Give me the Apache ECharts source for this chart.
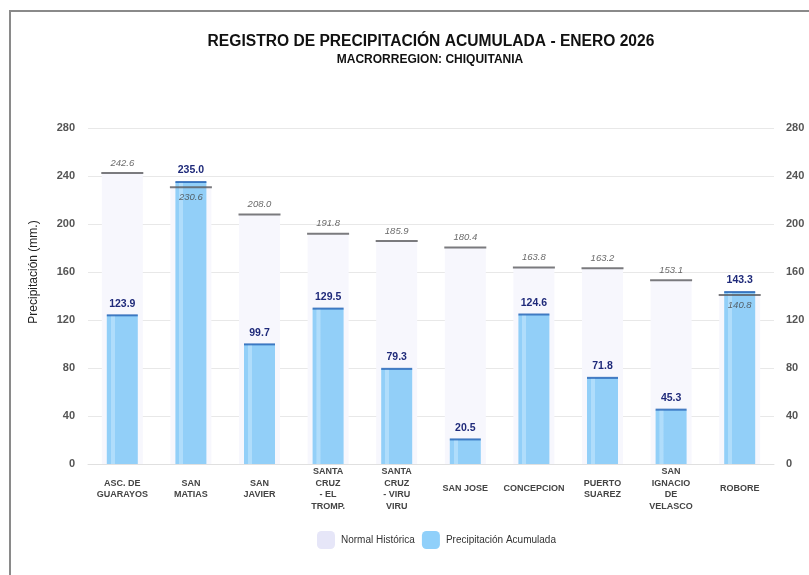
<!DOCTYPE html>
<html>
<head>
<meta charset="utf-8">
<script src="https://cdn.jsdelivr.net/npm/echarts@6/dist/echarts.min.js"></script>
<style>
  html, body { margin: 0; padding: 0; background: #fff; }
  #chart { width: 809px; height: 575px; }
</style>
</head>
<body>
<div id="chart"></div>
<script>
const estaciones = [
  'ASC. DE\nGUARAYOS', 'SAN\nMATIAS', 'SAN\nJAVIER', 'SANTA\nCRUZ\n- EL\nTROMP.',
  'SANTA\nCRUZ\n- VIRU\nVIRU', 'SAN JOSE', 'CONCEPCION', 'PUERTO\nSUAREZ',
  'SAN\nIGNACIO\nDE\nVELASCO', 'ROBORE'
];
const normalHistorica = [242.6, 230.6, 208.0, 191.8, 185.9, 180.4, 163.8, 163.2, 153.1, 140.8];
const precipAcumulada = [123.9, 235.0, 99.7, 129.5, 79.3, 20.5, 124.6, 71.8, 45.3, 143.3];
const yTicks = { min: 0, max: 280, interval: 40 };

const FONT = '"Liberation Sans", Arial, sans-serif';

// normal label goes under its line when the recorded rain is above it
const normalMarks = normalHistorica.map((v, i) => ({
  value: v,
  label: { position: precipAcumulada[i] >= v ? 'bottom' : 'top' }
}));

const chart = echarts.init(document.getElementById('chart'));

chart.setOption({
  backgroundColor: '#ffffff',
  animation: false,
  textStyle: { fontFamily: FONT },
  graphic: [
    {
      type: 'rect',
      shape: { x: 10, y: 11, width: 830, height: 620 },
      style: { fill: null, stroke: '#8a8a8a', lineWidth: 2 },
      silent: true
    },
    {
      type: 'text',
      style: {
        text: 'REGISTRO DE PRECIPITACIÓN ACUMULADA - ENERO 2026',
        x: 431, y: 42, textAlign: 'center', textVerticalAlign: 'middle',
        font: 'bold 15.6px ' + FONT, fill: '#111'
      }
    },
    {
      type: 'text',
      style: {
        text: 'MACRORREGION: CHIQUITANIA',
        x: 430, y: 60, textAlign: 'center', textVerticalAlign: 'middle',
        font: 'bold 12px ' + FONT, fill: '#111'
      }
    },
    {
      type: 'text',
      rotation: Math.PI / 2,
      x: 34, y: 272,
      style: {
        text: 'Precipitación (mm.)',
        x: 0, y: 0, textAlign: 'center', textVerticalAlign: 'middle',
        font: '12px ' + FONT, fill: '#222'
      }
    }
  ],
  legend: {
    left: 312,
    top: 526,
    itemWidth: 18,
    itemHeight: 18,
    itemGap: 7,
    textStyle: { fontSize: 10, color: '#333', padding: [0, 0, 0, 1] },
    data: [
      { name: 'Normal Histórica', itemStyle: { color: '#e6e6f8' } },
      { name: 'Precipitación Acumulada', itemStyle: { color: '#90d0fa' } }
    ]
  },
  grid: { left: 88, right: 35, top: 128, bottom: 111 },
  xAxis: [
    {
      type: 'category',
      data: estaciones,
      axisTick: { show: false },
      axisLine: { lineStyle: { color: '#e0e0e0' } },
      axisLabel: {
        interval: 0, fontSize: 9, fontWeight: 'bold', color: '#444',
        lineHeight: 11.5, verticalAlign: 'middle', margin: 25
      }
    },
    {
      type: 'category',
      data: estaciones,
      show: false
    }
  ],
  yAxis: [
    {
      type: 'value', ...yTicks,
      axisLine: { show: false }, axisTick: { show: false },
      axisLabel: { fontSize: 11, fontWeight: 'bold', color: '#555', margin: 13 },
      splitLine: { lineStyle: { color: '#e8e8e8' } }
    },
    {
      type: 'value', ...yTicks,
      axisLine: { show: false }, axisTick: { show: false },
      axisLabel: { fontSize: 11, fontWeight: 'bold', color: '#555', margin: 12 },
      splitLine: { show: false }
    }
  ],
  series: [
    {
      name: 'Normal Histórica',
      type: 'bar',
      xAxisIndex: 0,
      barWidth: 41,
      data: normalHistorica,
      itemStyle: { color: '#f7f7fd' },
      z: 1
    },
    {
      name: 'Precipitación Acumulada',
      type: 'bar',
      xAxisIndex: 1,
      barWidth: 31,
      data: precipAcumulada,
      itemStyle: {
        color: {
          type: 'linear', x: 0, y: 0, x2: 1, y2: 0,
          colorStops: [
            { offset: 0, color: '#92cff8' },
            { offset: 0.12, color: '#92cff8' },
            { offset: 0.13, color: '#b0ddfb' },
            { offset: 0.25, color: '#b0ddfb' },
            { offset: 0.26, color: '#92cff8' },
            { offset: 1, color: '#92cff8' }
          ]
        }
      },
      label: {
        show: true, position: 'top', distance: 6,
        fontSize: 10.5, fontWeight: 'bold', color: '#1f2a7a',
        formatter: p => p.value.toFixed(1)
      },
      z: 2
    },
    {
      name: 'tope precip',
      type: 'scatter',
      xAxisIndex: 1,
      symbol: 'rect',
      symbolSize: [31, 2],
      data: precipAcumulada,
      itemStyle: { color: '#1e5fb4' },
      silent: true,
      z: 3
    },
    {
      name: 'tope normal',
      type: 'scatter',
      xAxisIndex: 0,
      symbol: 'rect',
      symbolSize: [42, 2],
      data: normalMarks,
      itemStyle: { color: '#5a5a5e' },
      label: {
        show: true, distance: 4,
        fontSize: 9.5, fontStyle: 'italic', color: '#444',
        formatter: p => p.value.toFixed(1)
      },
      silent: true,
      z: 4
    }
  ]
});
</script>
</body>
</html>
